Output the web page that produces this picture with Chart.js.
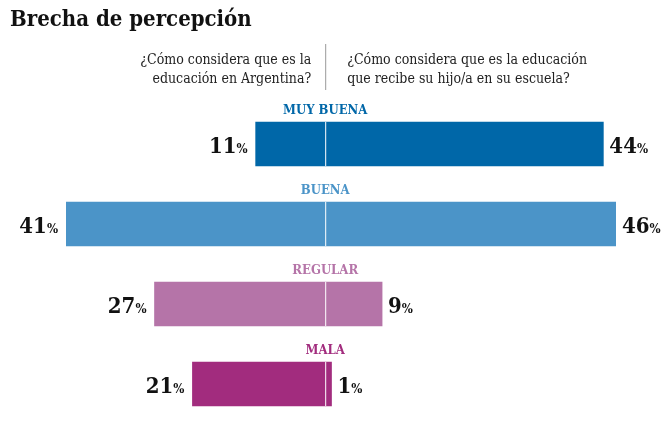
<!DOCTYPE html>
<html><head><meta charset="utf-8">
<script src="https://cdn.jsdelivr.net/npm/chart.js@4"></script>
<style>body{margin:0;background:#fff}</style>
</head><body>
<canvas id="c" width="671" height="441"></canvas>
<script>
const categories = ['MUY BUENA', 'BUENA', 'REGULAR', 'MALA'];
const argentina = [11, 41, 27, 21];
const hijo = [44, 46, 9, 1];
const colors = ['#0067a8', '#4b94c8', '#b574a8', '#a22c7e'];
const titleText = 'Brecha de percepción';
const qLeft = ['¿Cómo considera que es la', 'educación en Argentina?'];
const qRight = ['¿Cómo considera que es la educación', 'que recibe su hijo/a en su escuela?'];

const serif = "'DejaVu Serif Condensed', 'DejaVu Serif', serif";

function pct(ctx, x, y, v, align) {
  ctx.textBaseline = 'alphabetic';
  ctx.font = 'bold 22px ' + serif;
  const w1 = ctx.measureText(String(v)).width;
  ctx.font = 'bold 13px ' + serif;
  const w2 = ctx.measureText('%').width;
  const sx = align === 'right' ? x - w1 - w2 : x;
  ctx.fillStyle = '#111';
  ctx.textAlign = 'left';
  ctx.font = 'bold 22px ' + serif;
  ctx.fillText(String(v), sx, y);
  ctx.font = 'bold 13px ' + serif;
  ctx.fillText('%', sx + w1, y);
}

const overlay = {
  id: 'overlay',
  afterDatasetsDraw(chart) {
    const ctx = chart.ctx;
    const xs = chart.scales.x, ys = chart.scales.y;
    const x0 = xs.getPixelForValue(0);
    ctx.save();
    // title
    ctx.fillStyle = '#111';
    ctx.font = 'bold 22px ' + serif;
    ctx.textAlign = 'left';
    ctx.textBaseline = 'alphabetic';
    ctx.fillText(titleText, 10, 26);
    // questions
    ctx.font = '14px ' + serif;
    ctx.fillStyle = '#222';
    ctx.textAlign = 'right';
    qLeft.forEach((t, i) => ctx.fillText(t, x0 - 14, 64 + i * 19));
    ctx.textAlign = 'left';
    qRight.forEach((t, i) => ctx.fillText(t, x0 + 22, 64 + i * 19));
    ctx.strokeStyle = '#999';
    ctx.lineWidth = 1;
    ctx.beginPath(); ctx.moveTo(x0 + 0.5, 44); ctx.lineTo(x0 + 0.5, 90); ctx.stroke();
    categories.forEach((c, i) => {
      const y = ys.getPixelForValue(i);
      ctx.font = 'bold 13px ' + serif;
      ctx.fillStyle = colors[i];
      ctx.textAlign = 'center';
      ctx.fillText(c, x0, y - 30);
      // center white line
      ctx.strokeStyle = '#fff';
      ctx.beginPath(); ctx.moveTo(x0 + 0.5, y - 22); ctx.lineTo(x0 + 0.5, y + 22); ctx.stroke();
      const l = xs.getPixelForValue(-argentina[i]);
      const r = xs.getPixelForValue(hijo[i]);
      pct(ctx, l - 8, y + 9, argentina[i], 'right');
      pct(ctx, r + 6, y + 9, hijo[i], 'left');
    });
    ctx.restore();
  }
};

new Chart(document.getElementById('c'), {
  type: 'bar',
  data: {
    labels: categories,
    datasets: [{
      data: categories.map((c, i) => [-argentina[i], hijo[i]]),
      backgroundColor: colors,
      barThickness: 44,
      borderSkipped: false
    }]
  },
  options: {
    indexAxis: 'y',
    responsive: false,
    animation: false,
    layout: { padding: { left: 66, right: 55, top: 104, bottom: 17 } },
    plugins: { legend: { display: false }, tooltip: { enabled: false } },
    scales: {
      x: { display: false, min: -41, max: 46 },
      y: { display: false }
    }
  },
  plugins: [overlay]
});
</script>
</body></html>
